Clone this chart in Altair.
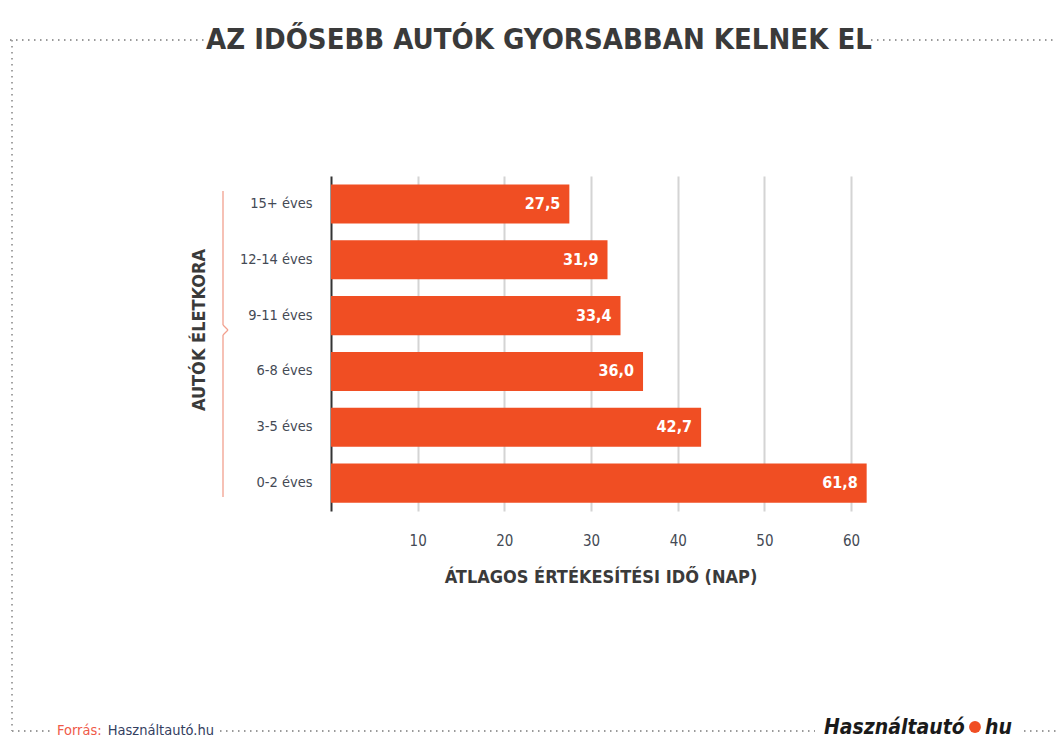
import altair as alt
import pandas as pd

categories = ["15+ éves", "12-14 éves", "9-11 éves", "6-8 éves", "3-5 éves", "0-2 éves"]
values = [27.5, 31.9, 33.4, 36.0, 42.7, 61.8]
value_labels = ["27,5", "31,9", "33,4", "36,0", "42,7", "61,8"]
x_ticks = [10, 20, 30, 40, 50, 60]

title_text = "AZ IDŐSEBB AUTÓK GYORSABBAN KELNEK EL"
x_title = "ÁTLAGOS ÉRTÉKESÍTÉSI IDŐ (NAP)"
y_title = "AUTÓK ÉLETKORA"
source_label = "Forrás:"
source_name = "Használtautó.hu"
logo_left = "Használtautó"
logo_right = "hu"

FONT = "Liberation Sans Narrow, DejaVu Sans Condensed, Roboto Condensed, Roboto"
BAR = "#F04E23"
DARK = "#3a3a3a"
DOT = "#9a9a9a"

df = pd.DataFrame({"cat": categories, "val": values, "lab": value_labels})

W, H = 540, 335
x_scale = alt.Scale(domain=[0, 62.3], nice=False, zero=True)
y_scale = alt.Scale(domain=categories, paddingInner=0.3, paddingOuter=0.15)

bars = alt.Chart(df).mark_bar(color=BAR).encode(
    x=alt.X("val:Q", scale=x_scale,
            axis=alt.Axis(values=x_ticks, title=None, grid=True, gridColor="#d4d4d4",
                          gridWidth=2, domain=False, ticks=False, labelPadding=22,
                          labelFont=FONT, labelFontSize=15, labelColor="#444a55")),
    y=alt.Y("cat:N", sort=categories, scale=y_scale,
            axis=alt.Axis(title=None, domain=True, domainColor="#333333", domainWidth=2,
                          ticks=False, labelPadding=19, labelFont=FONT, labelFontSize=14.5,
                          labelColor="#444a55", grid=False)),
)

labels = alt.Chart(df).mark_text(align="right", baseline="middle", dx=-9, color="white",
                                 font=FONT, fontSize=16, fontWeight="bold").encode(
    x=alt.X("val:Q", scale=x_scale),
    y=alt.Y("cat:N", sort=categories, scale=y_scale),
    text="lab:N",
)

one = pd.DataFrame({"k": [0]})
base = alt.Chart(one)

ox, oy = 331, 176  # plot origin in page coordinates

def tx(s, px, py, **kw):
    return base.mark_text(font=FONT, **kw).encode(
        x=alt.value(px - ox), y=alt.value(py - oy), text=alt.value(s))

def rule(x1, y1, x2, y2, **kw):
    return base.mark_rule(**kw).encode(
        x=alt.value(x1 - ox), x2=alt.value(x2 - ox),
        y=alt.value(y1 - oy), y2=alt.value(y2 - oy))

dot = dict(color=DOT, strokeWidth=1.8, strokeDash=[1.5, 4.5])
deco = [
    rule(10, 40, 207, 40, **dot),
    rule(871, 40, 1056, 40, **dot),
    rule(12, 40, 12, 731, **dot),
    rule(12, 731, 52, 731, **dot),
    rule(220, 731, 815, 731, **dot),
    rule(1024, 731, 1056, 731, **dot),
    tx(title_text, 539, 40, fontSize=29, fontWeight="bold", color=DARK, align="center", baseline="middle"),
    tx(source_label, 57, 735, fontSize=14.5, color="#ef5a48", align="left", baseline="alphabetic"),
    tx(source_name, 214, 735, fontSize=14.5, color="#34405f", align="right", baseline="alphabetic"),
    tx(logo_left, 824, 734, fontSize=21, fontWeight="bold", fontStyle="italic", color="#1a1a1a", align="left", baseline="alphabetic"),
    base.mark_point(filled=True, color=BAR, size=140, opacity=1).encode(
        x=alt.value(975 - ox), y=alt.value(727 - oy)),
    tx(logo_right, 985, 734, fontSize=21, fontWeight="bold", fontStyle="italic", color="#1a1a1a", align="left", baseline="alphabetic"),
    tx(y_title, 200, 330, fontSize=18, fontWeight="bold", color=DARK, align="center", baseline="middle", angle=270),
    tx(x_title, 601, 578, fontSize=18, fontWeight="bold", color=DARK, align="center", baseline="middle"),
]
br = dict(color="#f2a08e", strokeWidth=1.3)
deco += [
    rule(223, 191, 223, 325, **br),
    rule(223, 325, 228, 330, **br),
    rule(228, 330, 223, 335, **br),
    rule(223, 335, 223, 497, **br),
]

chart = alt.layer(bars, labels, *deco).properties(
    width=W, height=H,
    autosize=alt.AutoSizeParams(type="none"),
    padding={"left": ox, "top": oy, "right": 1056 - ox - W, "bottom": 740 - oy - H},
    background="white",
).configure_view(stroke=None, clip=False)

chart.save("out.html", embed_options={"renderer": "svg", "actions": False})
